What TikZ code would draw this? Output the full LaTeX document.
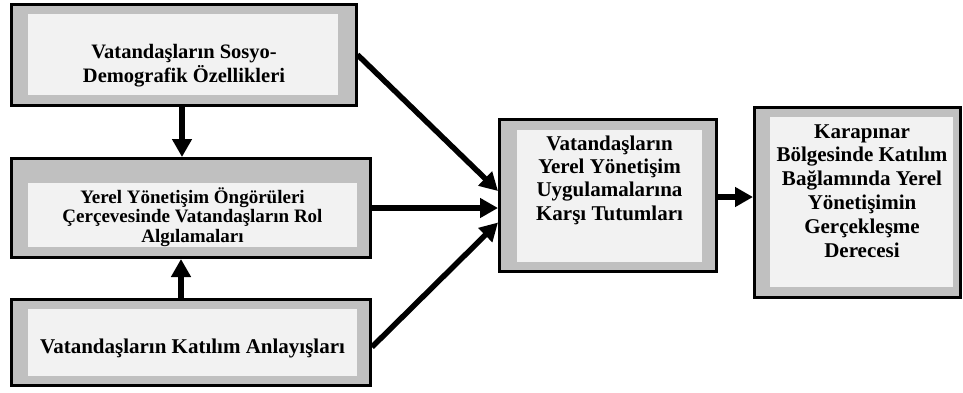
\documentclass[tikz,border=0pt]{standalone}
\usepackage{fontspec}
\setmainfont{Liberation Serif}
\usetikzlibrary{arrows.meta}
\definecolor{boxgray}{HTML}{C0C0C0}
\definecolor{boxlight}{HTML}{F2F2F2}
\begin{document}
\begin{tikzpicture}[x=1pt,y=-1pt,
  outerbox/.style={draw=black, line width=3pt, fill=boxgray, rectangle, inner sep=0pt},
  innerbox/.style={fill=boxlight, rectangle, inner sep=0pt, draw=none},
  boxtext/.style n args={2}{font=\bfseries\fontsize{#1}{#2}\selectfont, align=center, inner sep=0pt, anchor=base},
  conn/.style={line width=5.5pt, -{Triangle[length=18pt,width=19pt]}}]
\useasboundingbox (0,0) rectangle (963,392);
% boxes
\node[outerbox, minimum width=344.5pt, minimum height=100.5pt] (b1) at (183.75,54.75) {};
\node[innerbox, minimum width=310pt, minimum height=81pt] (i1) at (183,54.5) {};
\node[boxtext={20.5}{24}] (t1) at (184,82) {Vatandaşların Sosyo-\\Demografik Özellikleri};

\node[outerbox, minimum width=359pt, minimum height=99pt] (b2) at (191,208) {};
\node[innerbox, minimum width=329pt, minimum height=64pt] (i2) at (192.5,215) {};
\node[boxtext={19}{19.5}] (t2) at (192.5,242) {Yerel Yönetişim Öngörüleri\\Çerçevesinde Vatandaşların Rol\\Algılamaları};

\node[outerbox, minimum width=359pt, minimum height=86pt] (b3) at (191,342.5) {};
\node[innerbox, minimum width=329pt, minimum height=67pt] (i3) at (192.5,342.5) {};
\node[boxtext={21}{24}] (t3) at (192.5,353) {Vatandaşların Katılım Anlayışları};

\node[outerbox, minimum width=217pt, minimum height=152pt] (b4) at (608,195.5) {};
\node[innerbox, minimum width=185pt, minimum height=132pt] (i4) at (609.5,196) {};
\node[boxtext={21}{23.3}] (t4) at (609.5,220) {Vatandaşların\\Yerel Yönetişim\\Uygulamalarına\\Karşı Tutumları};

\node[outerbox, minimum width=206pt, minimum height=190pt] (b5) at (857.5,202.5) {};
\node[innerbox, minimum width=183pt, minimum height=170pt] (i5) at (861.5,202) {};
\node[boxtext={21}{23.8}] (t5) at (862,257) {Karapınar\\Bölgesinde Katılım\\Bağlamında Yerel\\Yönetişimin\\Gerçekleşme\\Derecesi};
% connectors
\draw[conn] (b1.east) -- ([yshift=4.5pt]b4.west);
\draw[conn] (b2.east) -- (b2.east -| b4.west);
\draw[conn] ([yshift=-4.5pt]b3.east) -- ([yshift=-27pt]b4.west);
\draw[conn] ([yshift=-1.5pt]b4.east) -- ([yshift=-1.5pt]b4.east -| b5.west);
\draw[conn] ([xshift=-1.75pt]b1.south) -- ([xshift=-1.75pt]b1.south |- b2.north);
\draw[conn] ([xshift=-10pt]b3.north) -- ([xshift=-10pt]b3.north |- b2.south);
\end{tikzpicture}
\end{document}
